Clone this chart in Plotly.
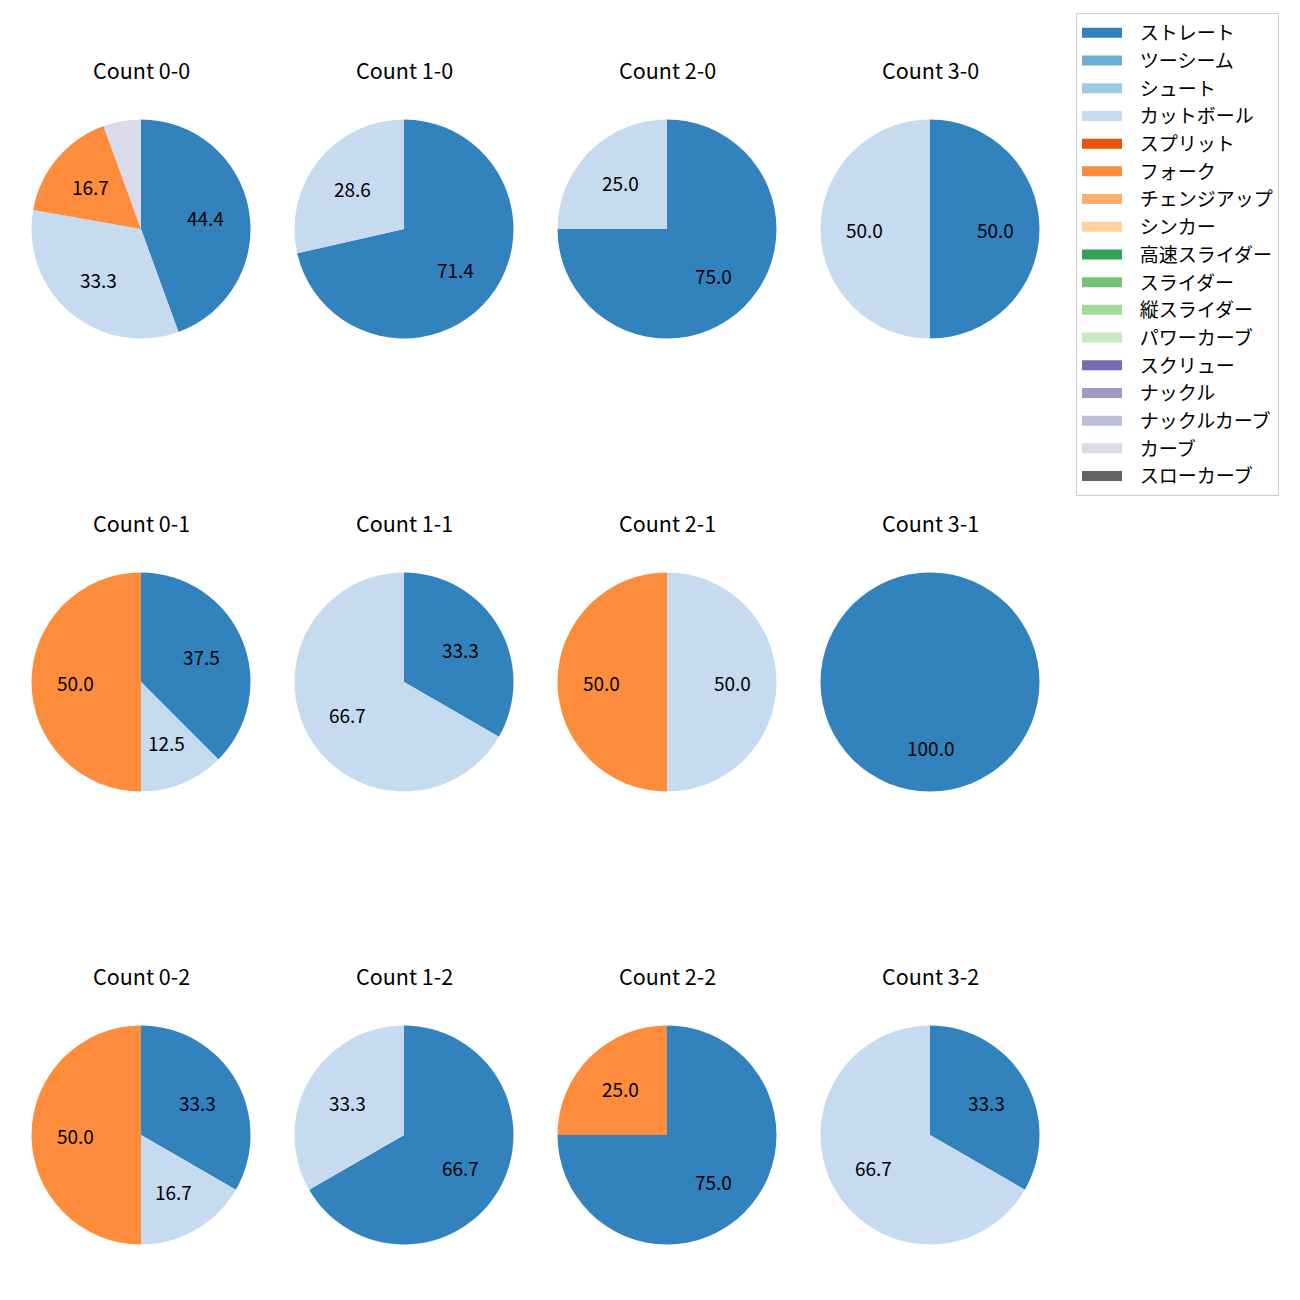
import math
import plotly.graph_objects as go

W = H = 1300
OFF = 8  # browser body margin offset

pitch_types = ["ストレート", "ツーシーム", "シュート", "カットボール", "スプリット", "フォーク",
               "チェンジアップ", "シンカー", "高速スライダー", "スライダー", "縦スライダー",
               "パワーカーブ", "スクリュー", "ナックル", "ナックルカーブ", "カーブ", "スローカーブ"]
colors = ["#3182bd", "#6baed6", "#9ecae1", "#c6dbef", "#e6550d", "#fd8d3c", "#fdae6b", "#fdd0a2",
          "#31a354", "#74c476", "#a1d99b", "#c7e9c0", "#756bb1", "#9e9ac8", "#bcbddc", "#dadaeb",
          "#636363"]

counts = ["0-0", "1-0", "2-0", "3-0",
          "0-1", "1-1", "2-1", "3-1",
          "0-2", "1-2", "2-2", "3-2"]

# pitch counts per count situation
straight = [8, 5, 3, 1, 3, 1, 0, 1, 2, 2, 3, 1]
cutball  = [6, 2, 1, 1, 1, 2, 1, 0, 1, 1, 0, 2]
fork     = [3, 0, 0, 0, 4, 0, 1, 0, 3, 0, 1, 0]
curve    = [1, 0, 0, 0, 0, 0, 0, 0, 0, 0, 0, 0]

col_cx = [141, 404, 667, 930]
row_cy = [229, 682, 1135]
R = 109.5


def px_x(x):
    return (x - OFF) / W


def px_y(y):
    return 1 - (y - OFF) / H


fig = go.Figure()
annotations = []
for k, cnt in enumerate(counts):
    vals = [0] * len(pitch_types)
    vals[0] = straight[k]
    vals[3] = cutball[k]
    vals[5] = fork[k]
    vals[15] = curve[k]
    labs = [p for p, v in zip(pitch_types, vals) if v > 0]
    cols = [c for c, v in zip(colors, vals) if v > 0]
    vs = [v for v in vals if v > 0]
    cx = col_cx[k % 4]
    cy = row_cy[k // 4]
    fig.add_trace(go.Pie(
        labels=labs, values=vs, sort=False, direction="clockwise", rotation=0,
        marker=dict(colors=cols, line=dict(width=0)), textinfo="none", hoverinfo="label+percent",
        domain=dict(x=[px_x(cx - R), px_x(cx + R)], y=[px_y(cy + R), px_y(cy - R)]),
        showlegend=False,
    ))
    total = sum(vs)
    cum = 0
    for v in vs:
        pct = 100 * v / total
        th = 2 * math.pi * (cum + v / 2) / total
        if pct >= 10:
            tx = cx + 0.6 * R * math.sin(th)
            ty = cy - 0.6 * R * math.cos(th)
            annotations.append(dict(x=px_x(tx), y=px_y(ty), xref="paper", yref="paper",
                                    xanchor="center", yanchor="middle",
                                    text=f"{pct:.1f}", showarrow=False,
                                    font=dict(size=19, color="black")))
        cum += v
    annotations.append(dict(x=px_x(cx), y=px_y(cy - 160), xref="paper", yref="paper",
                            xanchor="center", yanchor="middle",
                            text=f"Count {cnt}", showarrow=False,
                            font=dict(size=21.5, color="black")))

# legend entries (all pitch types)
for name, c in zip(pitch_types, colors):
    fig.add_trace(go.Scatter(x=[None], y=[None], mode="lines", name="\u00a0\u00a0\u00a0" + name,
                             line=dict(color=c, width=13), showlegend=True,
                             hoverinfo="skip"))

fig.update_layout(
    width=W, height=H, margin=dict(l=0, r=0, t=0, b=0),
    paper_bgcolor="white", plot_bgcolor="white",
    font=dict(family="Noto Sans CJK JP", color="black"),
    annotations=annotations,
    xaxis=dict(visible=False), yaxis=dict(visible=False),
    legend=dict(x=px_x(1076), y=px_y(13), xanchor="left", yanchor="top",
                bordercolor="#cccccc", borderwidth=1, font=dict(size=19),
                traceorder="normal", itemwidth=40),
)
fig.write_html("out.html")
